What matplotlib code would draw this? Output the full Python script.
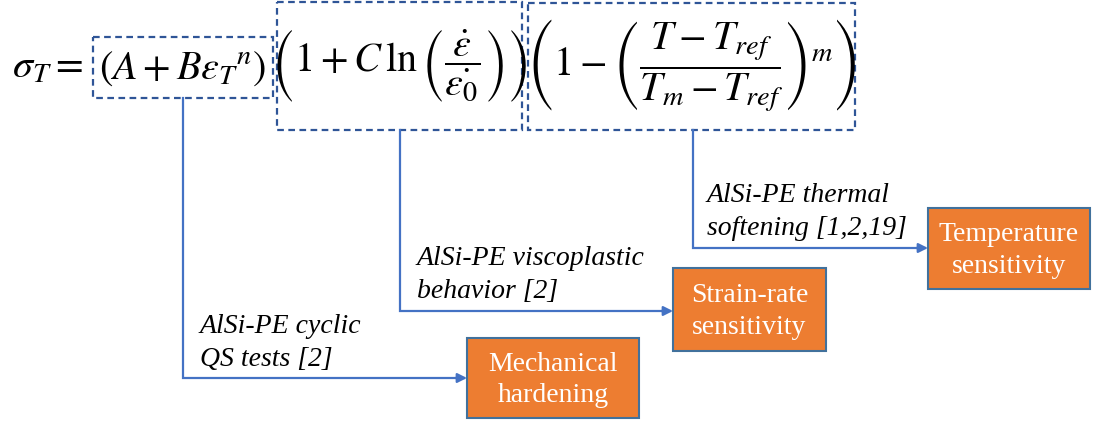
import matplotlib
matplotlib.use("Agg")
import matplotlib.pyplot as plt
from matplotlib.patches import Rectangle

# Diagram content
eq_lhs = r'$\sigma_T =$'
eq_terms = [r'$(A + B\varepsilon_T{}^n)$',
            r'$\left(1 + C\,\ln\left(\dfrac{\dot{\varepsilon}}{\dot{\varepsilon_0}}\right)\right)$',
            r'$\left(1 - \left(\dfrac{T - T_{ref}}{T_m - T_{ref}}\right)^m\right)$']
notes = ['AlSi-PE cyclic\nQS tests [2]',
         'AlSi-PE viscoplastic\nbehavior [2]',
         'AlSi-PE thermal\nsoftening [1,2,19]']
effects = ['Mechanical\nhardening', 'Strain-rate\nsensitivity', 'Temperature\nsensitivity']

# Layout in pixel coordinates (x0, x1, y0, y1), y downwards
term_boxes = [(93, 273, 37, 98), (277, 522, 2, 130), (528, 855, 3, 130)]
effect_boxes = [(467, 639, 338, 418), (673, 826, 268, 351), (928, 1090, 208, 289)]
link_x = [183, 400, 693]
link_y = [378, 311, 248]
note_xy = [(200, 343), (417, 275), (707, 212)]

dash_col = '#2F5597'
line_col = '#4472C4'
orange = '#ED7D31'
edge_col = '#41719C'

plt.rcParams['mathtext.fontset'] = 'stix'

fig = plt.figure(figsize=(10.99, 4.23), dpi=100)
ax = fig.add_axes([0, 0, 1, 1])
ax.set_xlim(0, 1099)
ax.set_ylim(423, 0)
ax.axis('off')

# equation
ax.text(12, 67, eq_lhs, fontsize=29, ha='left', va='center')
for (x0, x1, y0, y1), term in zip(term_boxes, eq_terms):
    ax.add_patch(Rectangle((x0, y0), x1 - x0, y1 - y0, fill=False,
                           ec=dash_col, lw=1.6, ls=(0, (3, 2))))
    ax.text((x0 + x1) / 2, (y0 + y1) / 2 if y0 > 10 else 66, term,
            fontsize=29, ha='center', va='center')

# connectors with arrows
for i in range(3):
    x = link_x[i]
    y = link_y[i]
    top = term_boxes[i][3]
    xe = effect_boxes[i][0]
    ax.plot([x, x, xe - 8], [top, y, y], color=line_col, lw=1.6,
            solid_joinstyle='miter')
    ax.annotate('', xy=(xe, y), xytext=(xe - 12, y),
                arrowprops=dict(arrowstyle='-|>', color=line_col, lw=1.6,
                                mutation_scale=14, shrinkA=0, shrinkB=0))
    ax.text(note_xy[i][0], note_xy[i][1], notes[i], fontsize=20,
            family='Liberation Serif', style='italic', ha='left', va='center',
            linespacing=1.4)

# effect boxes
for (x0, x1, y0, y1), label in zip(effect_boxes, effects):
    ax.add_patch(Rectangle((x0, y0), x1 - x0, y1 - y0, fc=orange,
                           ec=edge_col, lw=1.5))
    ax.text((x0 + x1) / 2, (y0 + y1) / 2 + 2, label, fontsize=20,
            family='Liberation Serif', color='white', ha='center',
            va='center', linespacing=1.35)

fig.savefig('out.png', dpi=100)
